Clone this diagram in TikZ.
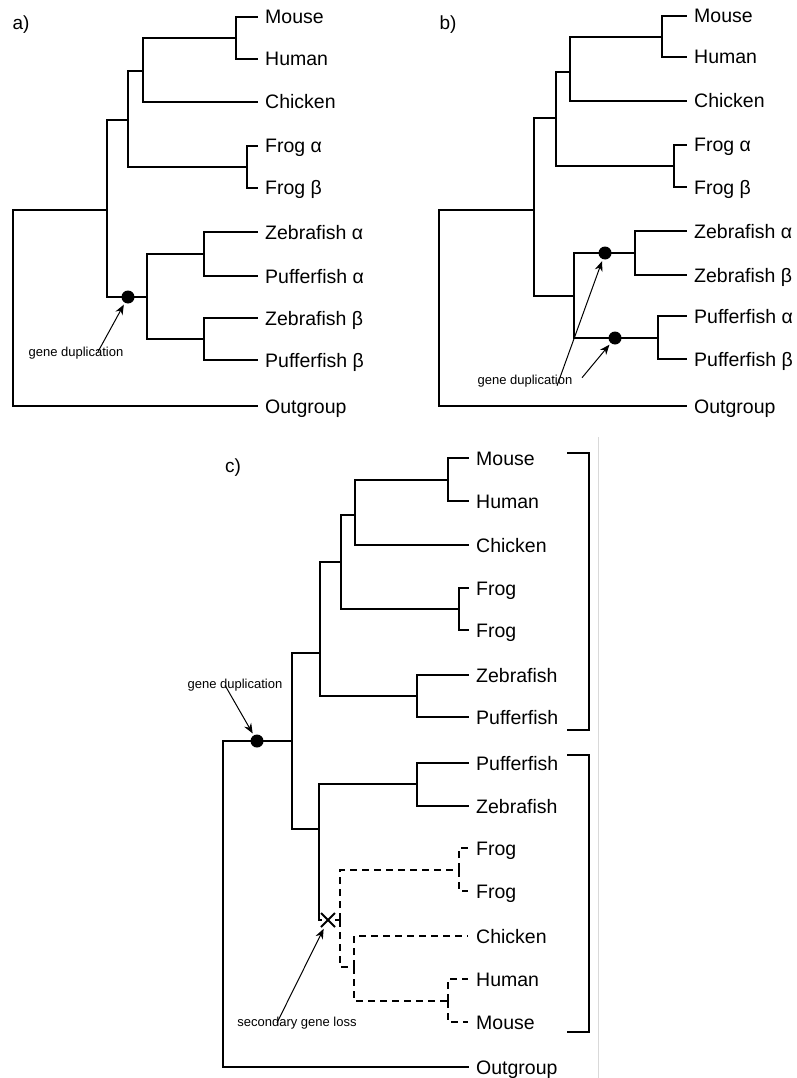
\documentclass[tikz,border=0pt]{standalone}
\usepackage{fontspec}
\setmainfont{Liberation Sans}
\usetikzlibrary{positioning,arrows.meta,shapes.misc}
\tikzset{
  branch/.style={line width=1.8pt, line cap=rect},
  lost branch/.style={branch, dash pattern=on 7pt off 5pt, line cap=butt},
  taxon/.style={anchor=west, font=\fontsize{19.5}{21}\selectfont, inner xsep=8pt, inner ysep=0pt, text height=14pt, text depth=0pt},
  panel label/.style={font=\fontsize{19}{21}\selectfont, inner sep=0pt},
  event label/.style={font=\fontsize{13}{15}\selectfont, inner sep=0pt},
  dup dot/.style={circle, fill=black, inner sep=0pt, minimum size=13pt},
  loss mark/.style={cross out, draw=black, line width=2pt, inner sep=0pt, minimum size=12pt},
  pointer/.style={-{Stealth[length=10pt,width=8pt]}, line width=1pt, shorten >=2pt},
  bracket/.style={line width=1.8pt},
}
\begin{document}
\begin{tikzpicture}[x=1pt,y=-1pt]
\useasboundingbox (0,0) rectangle (796,1078);
%panel a
\node[panel label] (aLabel) at (21,25) {a)};
\node[taxon] (aMouse) at (257,17) {Mouse};
\node[taxon] (aHuman) at (257,59) {Human};
\node[taxon] (aChicken) at (257,102) {Chicken};
\node[taxon] (aFrogA) at (257,146) {Frog α};
\node[taxon] (aFrogB) at (257,188) {Frog β};
\node[taxon] (aZebraA) at (257,232) {Zebrafish α};
\node[taxon] (aPufferA) at (257,276) {Pufferfish α};
\node[taxon] (aZebraB) at (257,318) {Zebrafish β};
\node[taxon] (aPufferB) at (257,360) {Pufferfish β};
\node[taxon] (aOut) at (257,406) {Outgroup};
\coordinate (aMH) at (236,38);
\coordinate (aMHC) at (143,71);
\coordinate (aFrog) at (247,167);
\coordinate (aTetra) at (128,120);
\coordinate (aZP1) at (204,254);
\coordinate (aZP2) at (204,339);
\coordinate (aFish) at (147,297);
\coordinate (aAll) at (107,210);
\coordinate (aRoot) at (13,308);
\node[event label] (aDupText) at (76,353) {gene duplication};
%branches a
\draw[branch] (aMH) |- (aMouse);
\draw[branch] (aMH) |- (aHuman);
\draw[branch] (aMHC) |- (aMH);
\draw[branch] (aMHC) |- (aChicken);
\draw[branch] (aFrog) |- (aFrogA);
\draw[branch] (aFrog) |- (aFrogB);
\draw[branch] (aTetra) |- (aMHC);
\draw[branch] (aTetra) |- (aFrog);
\draw[branch] (aZP1) |- (aZebraA);
\draw[branch] (aZP1) |- (aPufferA);
\draw[branch] (aZP2) |- (aZebraB);
\draw[branch] (aZP2) |- (aPufferB);
\draw[branch] (aFish) |- (aZP1);
\draw[branch] (aFish) |- (aZP2);
\draw[branch] (aAll) |- (aTetra);
\draw[branch] (aAll) |- (aFish);
\draw[branch] (aRoot) |- (aAll);
\draw[branch] (aRoot) |- (aOut);
\node[dup dot] (aDot) at (128,297) {};
\draw[pointer] ([xshift=22pt,yshift=-5pt]aDupText.north) -- (aDot);
%panel b
\node[panel label] (bLabel) at (448,25) {b)};
\node[taxon] (bMouse) at (686,16) {Mouse};
\node[taxon] (bHuman) at (686,57) {Human};
\node[taxon] (bChicken) at (686,101) {Chicken};
\node[taxon] (bFrogA) at (686,145) {Frog α};
\node[taxon] (bFrogB) at (686,187) {Frog β};
\node[taxon] (bZebraA) at (686,231) {Zebrafish α};
\node[taxon] (bZebraB) at (686,275) {Zebrafish β};
\node[taxon] (bPufferA) at (686,316) {Pufferfish α};
\node[taxon] (bPufferB) at (686,359) {Pufferfish β};
\node[taxon] (bOut) at (686,406) {Outgroup};
\coordinate (bMH) at (662,37);
\coordinate (bMHC) at (570,72);
\coordinate (bFrog) at (674,166);
\coordinate (bTetra) at (556,118);
\coordinate (bZeb) at (635,253);
\coordinate (bPuf) at (658,338);
\coordinate (bFish) at (574,296);
\coordinate (bAll) at (534,210);
\coordinate (bRoot) at (439,308);
\node[event label] (bDupText) at (525,381) {gene duplication};
%branches b
\draw[branch] (bMH) |- (bMouse);
\draw[branch] (bMH) |- (bHuman);
\draw[branch] (bMHC) |- (bMH);
\draw[branch] (bMHC) |- (bChicken);
\draw[branch] (bFrog) |- (bFrogA);
\draw[branch] (bFrog) |- (bFrogB);
\draw[branch] (bTetra) |- (bMHC);
\draw[branch] (bTetra) |- (bFrog);
\draw[branch] (bZeb) |- (bZebraA);
\draw[branch] (bZeb) |- (bZebraB);
\draw[branch] (bPuf) |- (bPufferA);
\draw[branch] (bPuf) |- (bPufferB);
\draw[branch] (bFish) |- (bZeb);
\draw[branch] (bFish) |- (bPuf);
\draw[branch] (bAll) |- (bTetra);
\draw[branch] (bAll) |- (bFish);
\draw[branch] (bRoot) |- (bAll);
\draw[branch] (bRoot) |- (bOut);
\node[dup dot] (bDotZ) at (605,253) {};
\node[dup dot] (bDotP) at (615,338) {};
\draw[pointer] ([xshift=32pt,yshift=-11pt]bDupText.north) -- (bDotZ);
\draw[pointer] ([xshift=57pt,yshift=-3pt]bDupText.north) -- (bDotP);
%panel c
\node[panel label] (cLabel) at (233,468) {c)};
\node[taxon] (cMouse) at (468,458) {Mouse};
\node[taxon] (cHuman) at (468,501) {Human};
\node[taxon] (cChicken) at (468,545) {Chicken};
\node[taxon] (cFrogA) at (468,588) {Frog};
\node[taxon] (cFrogB) at (468,630) {Frog};
\node[taxon] (cZebra) at (468,675) {Zebrafish};
\node[taxon] (cPuffer) at (468,717) {Pufferfish};
\node[taxon] (cPufferL) at (468,763) {Pufferfish};
\node[taxon] (cZebraL) at (468,806) {Zebrafish};
\node[taxon] (cFrogC) at (468,848) {Frog};
\node[taxon] (cFrogD) at (468,891) {Frog};
\node[taxon] (cChickenL) at (468,936) {Chicken};
\node[taxon] (cHumanL) at (468,979) {Human};
\node[taxon] (cMouseL) at (468,1022) {Mouse};
\node[taxon] (cOut) at (468,1067) {Outgroup};
\coordinate (cMH) at (448,480);
\coordinate (cMHC) at (355,515);
\coordinate (cFrog) at (459,609);
\coordinate (cTetra) at (341,562);
\coordinate (cFish) at (417,696);
\coordinate (cUp) at (320,653);
\coordinate (cDup) at (292,741);
\coordinate (cRoot) at (223,900);
\coordinate (cLow) at (319,829);
\coordinate (cFishL) at (417,784);
\coordinate (cLostTetra) at (340,920);
\coordinate (cLostFrog) at (459,870);
\coordinate (cLostMHC) at (354,967);
\coordinate (cLostMH) at (448,1001);
\node[loss mark] (cLoss) at (328,920) {};
\node[event label] (cDupText) at (235,685) {gene duplication};
\node[event label] (cLossText) at (297,1023) {secondary gene loss};
%branches c
\draw[branch] (cMH) |- (cMouse);
\draw[branch] (cMH) |- (cHuman);
\draw[branch] (cMHC) |- (cMH);
\draw[branch] (cMHC) |- (cChicken);
\draw[branch] (cFrog) |- (cFrogA);
\draw[branch] (cFrog) |- (cFrogB);
\draw[branch] (cTetra) |- (cMHC);
\draw[branch] (cTetra) |- (cFrog);
\draw[branch] (cFish) |- (cZebra);
\draw[branch] (cFish) |- (cPuffer);
\draw[branch] (cUp) |- (cTetra);
\draw[branch] (cUp) |- (cFish);
\draw[branch] (cDup) |- (cUp);
\draw[branch] (cDup) |- (cLow);
\draw[branch] (cRoot) |- (cDup);
\draw[branch] (cRoot) |- (cOut);
\draw[branch] (cFishL) |- (cPufferL);
\draw[branch] (cFishL) |- (cZebraL);
\draw[branch] (cLow) |- (cFishL);
\draw[branch] (cLow) |- (cLoss);
%lost copies
\draw[lost branch] (cLoss) -- (cLostTetra);
\draw[lost branch] (cLostTetra) |- (cLostFrog);
\draw[lost branch] (cLostTetra) |- (cLostMHC);
\draw[lost branch] (cLostFrog) |- (cFrogC);
\draw[lost branch] (cLostFrog) |- (cFrogD);
\draw[lost branch] (cLostMHC) |- (cChickenL);
\draw[lost branch] (cLostMHC) |- (cLostMH);
\draw[lost branch] (cLostMH) |- (cHumanL);
\draw[lost branch] (cLostMH) |- (cMouseL);
\node[dup dot] (cDot) at (257,741) {};
\draw[pointer] ([xshift=-10pt,yshift=6pt]cDupText.south) -- (cDot);
\draw[pointer] ([xshift=-20pt,yshift=-6pt]cLossText.north) -- (cLoss);
%brackets
\draw[bracket] (567,453) -| (589,730) -- (567,730);
\draw[bracket] (567,755) -| (589,1032) -- (567,1032);
\draw[gray!30, line width=0.6pt] (598,437) -- (598,1078);
\end{tikzpicture}
\end{document}
